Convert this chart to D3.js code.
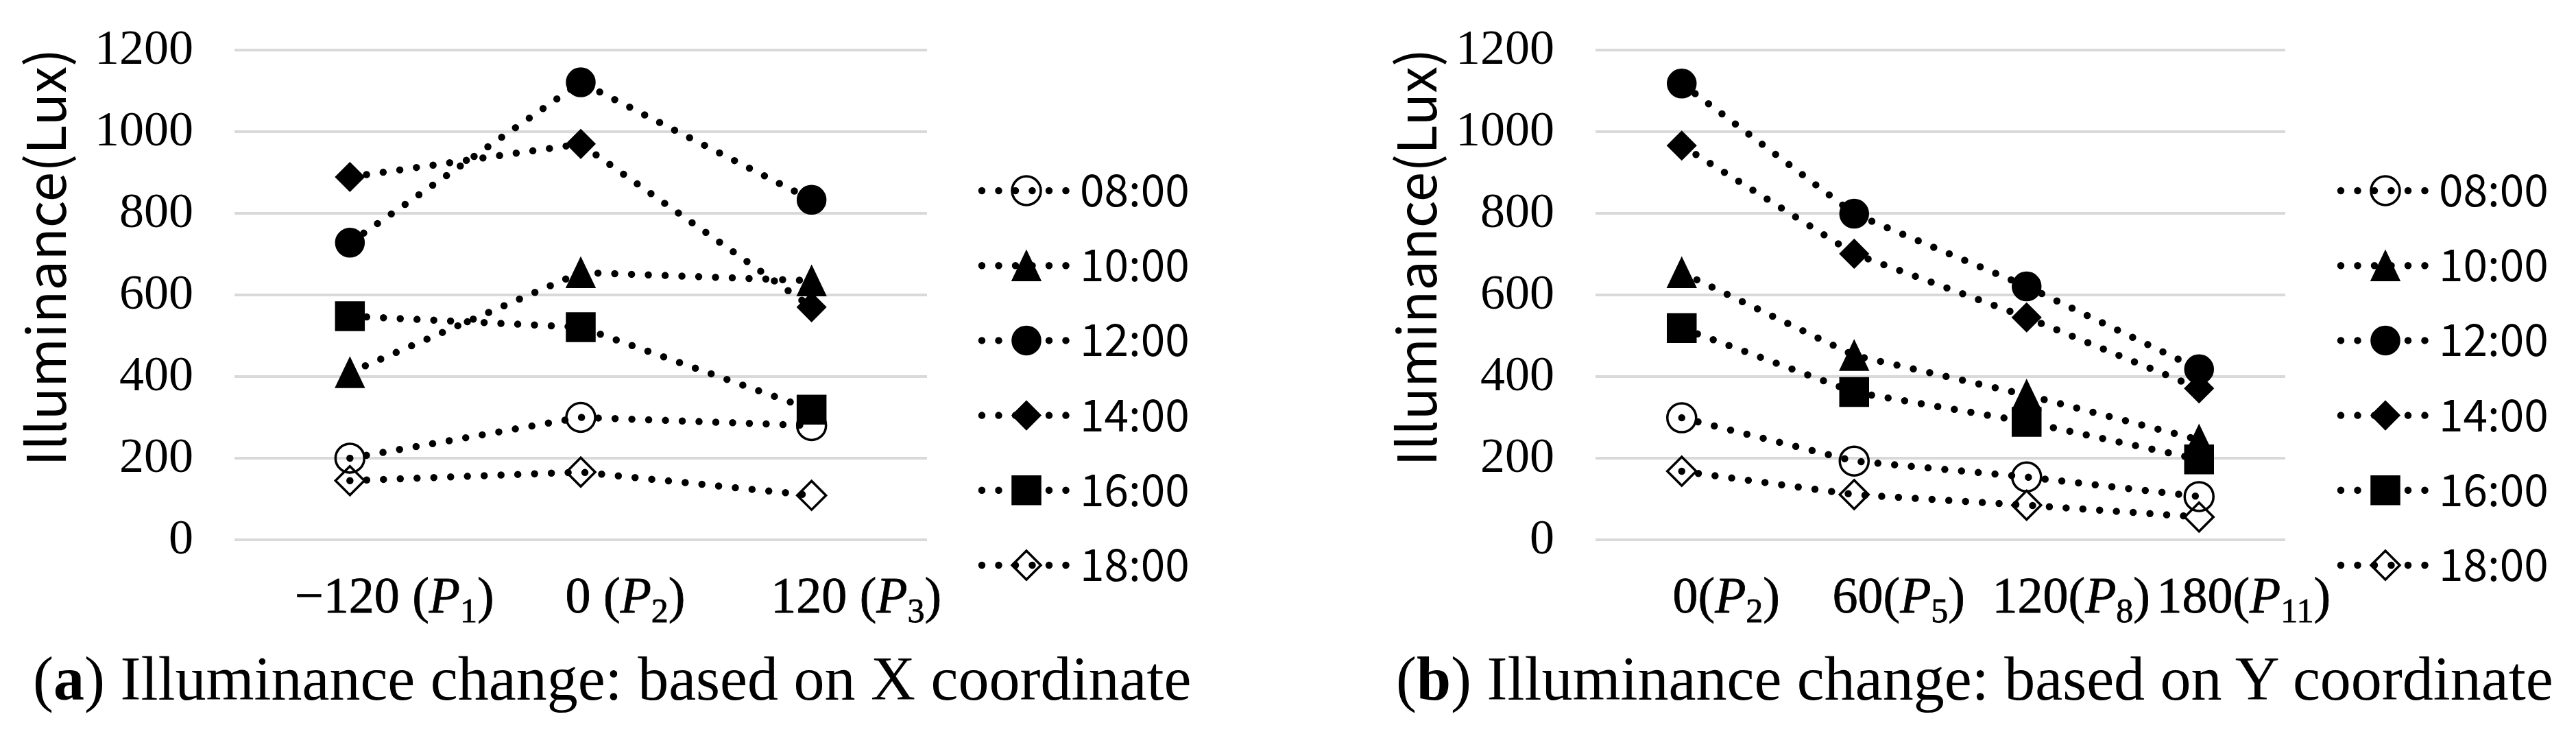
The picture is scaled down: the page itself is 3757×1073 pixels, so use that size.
<!DOCTYPE html>
<html>
<head>
<meta charset="utf-8">
<script src="https://cdn.jsdelivr.net/npm/d3@7"></script>
<style>
  html, body { margin: 0; padding: 0; background: #fff; }
  svg { display: block; }
</style>
</head>
<body>
<script>
// ---------------- DATA ----------------
const seriesNames = ["08:00", "10:00", "12:00", "14:00", "16:00", "18:00"];
const seriesShapes = ["circleOpen", "triangle", "circle", "diamond", "square", "diamondOpen"];

const yTicks = [0, 200, 400, 600, 800, 1000, 1200];

// Panel (a): X coordinate
const xCategoriesA = ["-120", "0", "120"];
const xTickNumA = ["\u2212120", "0", "120"];
const xTickSubA = ["1", "2", "3"];
const a0800 = [200, 300, 280];
const a1000 = [410, 655, 635];
const a1200 = [728, 1121, 833];
const a1400 = [889, 970, 570];
const a1600 = [548, 521, 319];
const a1800 = [145, 166, 109];

// Panel (b): Y coordinate
const xCategoriesB = ["0", "60", "120", "180"];
const xTickNumB = ["0", "60", "120", "180"];
const xTickSubB = ["2", "5", "8", "11"];
const b0800 = [299, 193, 154, 106];
const b1000 = [655, 452, 355, 245];
const b1200 = [1118, 799, 621, 418];
const b1400 = [966, 701, 545, 371];
const b1600 = [519, 362, 289, 197];
const b1800 = [168, 111, 85, 56];

const captionA = ["a", " Illuminance change: based on X coordinate"];
const captionB = ["b", " Illuminance change: based on Y coordinate"];

// ---------------- DRAW ----------------
const W = 3757, H = 1073;
const svg = d3.select("body").append("svg").attr("width", W).attr("height", H);

const SERIF = "'Liberation Serif', 'Times New Roman', serif";
const SANS = "'Noto Sans CJK KR', 'Noto Sans', sans-serif";

function markerPath(shape) {
  const r = 21;
  switch (shape) {
    case "circle": case "circleOpen":
      return d3.symbol(d3.symbolCircle, Math.PI * r * r)();
    case "square":
      return `M${-r},${-r}H${r}V${r}H${-r}Z`;
    case "triangle":
      return `M0,${-r - 1}L${r},${r + 1}L${-r},${r + 1}Z`;
    case "diamond": case "diamondOpen":
      return `M0,${-r}L${r},0L0,${r}L${-r},0Z`;
  }
}
function isOpen(shape) { return shape === "circleOpen" || shape === "diamondOpen"; }

function styleMarker(sel, shape) {
  sel.attr("d", markerPath(shape))
    .attr("fill", isOpen(shape) ? "none" : "#000")
    .attr("stroke", "#000")
    .attr("stroke-width", isOpen(shape) ? 3.5 : 1.5);
}

const DOT_W = 10.5, DOT_GAP = "0 24.5";

function drawPanel(cfg) {
  const g = svg.append("g");
  const y = d3.scaleLinear().domain([0, 1200]).range([787, 73]);
  const x = d3.scalePoint().domain(cfg.cats).range([cfg.left, cfg.right]).padding(0.5);

  // gridlines
  g.selectAll("line.grid").data(yTicks).join("line")
    .attr("x1", cfg.left).attr("x2", cfg.right)
    .attr("y1", d => y(d)).attr("y2", d => y(d))
    .attr("stroke", "#d9d9d9").attr("stroke-width", 4);

  // y tick labels
  g.selectAll("text.ytick").data(yTicks).join("text")
    .attr("x", cfg.left - 60).attr("y", d => y(d) + 20)
    .attr("text-anchor", "end")
    .attr("font-family", SERIF).attr("font-size", 72)
    .attr("fill", "#000")
    .text(d => d);

  // x tick labels
  cfg.cats.forEach((c, i) => {
    const t = g.append("text")
      .attr("x", x(c) + 65).attr("y", 893)
      .attr("text-anchor", "middle")
      .attr("font-family", SERIF).attr("font-size", 74)
      .attr("fill", "#000").attr("stroke", "#000").attr("stroke-width", 0.8);
    t.append("tspan").text(cfg.nums[i] + cfg.sep + "(");
    t.append("tspan").attr("font-style", "italic").text("P");
    t.append("tspan").attr("font-size", 50).attr("dy", 14).text(cfg.subs[i]);
    t.append("tspan").attr("dy", -14).text(")");
  });

  // y axis title
  g.append("text")
    .attr("transform", `translate(${cfg.titleX},375) rotate(-90)`)
    .attr("text-anchor", "middle")
    .attr("font-family", SANS).attr("font-size", 78)
    .attr("fill", "#000")
    .text("Illuminance(Lux)");

  // series
  const line = d3.line().x((d, i) => x(cfg.cats[i])).y(d => y(d));
  cfg.series.forEach((vals, si) => {
    const sg = g.append("g");
    sg.append("path").attr("d", line(vals))
      .attr("fill", "none").attr("stroke", "#000")
      .attr("stroke-width", DOT_W).attr("stroke-linecap", "round")
      .attr("stroke-dasharray", DOT_GAP);
    sg.selectAll("path.m").data(vals).join("path")
      .attr("class", "m")
      .attr("transform", (d, i) => `translate(${x(cfg.cats[i])},${y(d)})`)
      .call(styleMarker, seriesShapes[si]);
  });

  // legend
  const L = cfg.legendX;
  seriesNames.forEach((name, si) => {
    const ry = 278 + si * 109.2;
    const lg = g.append("g");
    lg.append("line").attr("x1", L).attr("x2", L + 123).attr("y1", ry).attr("y2", ry)
      .attr("stroke", "#000").attr("stroke-width", DOT_W).attr("stroke-linecap", "round")
      .attr("stroke-dasharray", DOT_GAP);
    lg.append("path").attr("transform", `translate(${L + 65},${ry})`)
      .call(styleMarker, seriesShapes[si]);
    lg.append("text").attr("x", L + 143).attr("y", ry + 23)
      .attr("font-family", SANS).attr("font-size", 64).attr("fill", "#000")
      .text(name);
  });

  // caption
  const cap = g.append("text").attr("x", cfg.capX).attr("y", 1020)
    .attr("font-family", SERIF).attr("font-size", 90).attr("fill", "#000");
  cap.append("tspan").text("(");
  cap.append("tspan").attr("font-weight", "bold").text(cfg.caption[0]);
  cap.append("tspan").text(")" + cfg.caption[1]);
}

drawPanel({
  left: 342, right: 1352, cats: xCategoriesA, nums: xTickNumA, subs: xTickSubA, sep: " ",
  series: [a0800, a1000, a1200, a1400, a1600, a1800],
  titleX: 96, legendX: 1432, capX: 48, caption: captionA
});
drawPanel({
  left: 2327, right: 3333, cats: xCategoriesB, nums: xTickNumB, subs: xTickSubB, sep: "",
  series: [b0800, b1000, b1200, b1400, b1600, b1800],
  titleX: 2095, legendX: 3414, capX: 2036, caption: captionB
});
</script>
</body>
</html>
